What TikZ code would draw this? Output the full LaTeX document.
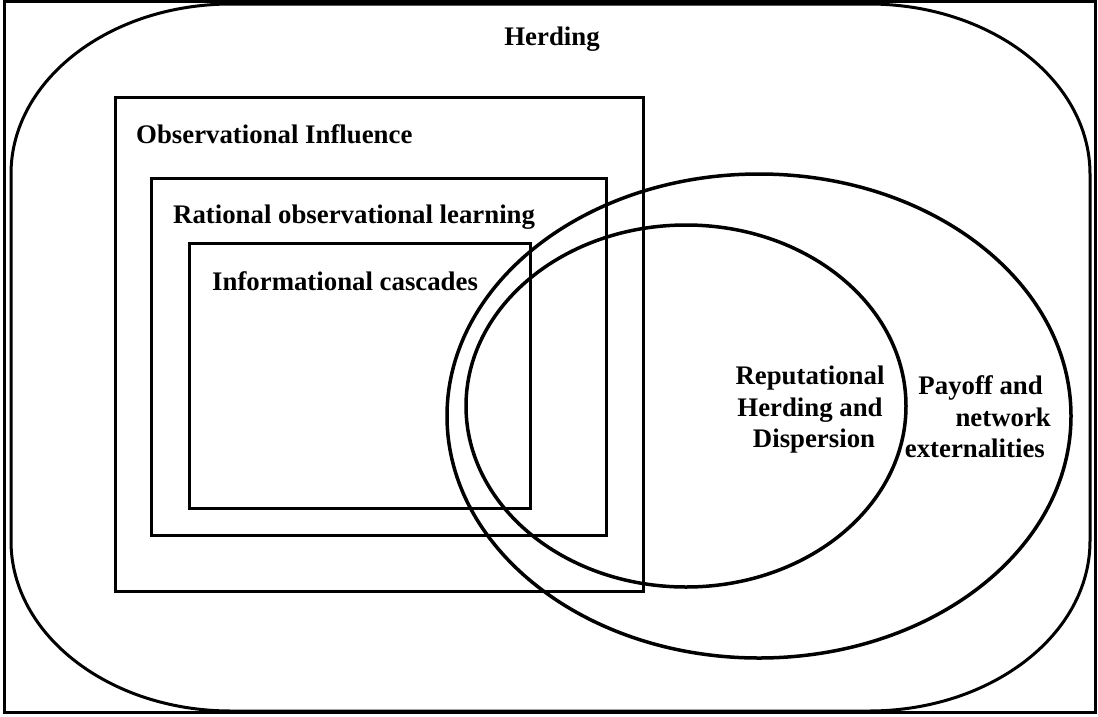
\documentclass[tikz,border=0pt]{standalone}
\usepackage{fontspec}
\setmainfont{Liberation Serif}
\begin{document}
\begin{tikzpicture}[x=1pt,y=-1pt,
  lab/.style={inner sep=0pt, font=\fontsize{26.8}{31.5}\selectfont\bfseries},
  frame/.style={line width=3pt},
  box/.style={line width=3pt},
  oval/.style={line width=3.5pt}]
\useasboundingbox (0,0) rectangle (1098,716);
% outer frame
\draw[frame] (4.5,1.5) rectangle (1095.5,712.5);
% rounded herding region
\draw[box] (11,174) .. controls (11,80) and (109.5,4) .. (231,4)
  -- (869,4) .. controls (990.5,4) and (1090,80) .. (1090,174)
  -- (1090,541) .. controls (1090,635) and (990.5,711) .. (869,711)
  -- (231,711) .. controls (109.5,711) and (11,635) .. (11,541) -- cycle;
% rectangles
\draw[box] (115,97) rectangle (643,591);
\draw[box] (151,178) rectangle (606,535);
\draw[box] (189,243) rectangle (530,508);
% ellipses
\draw[oval] (759,416) ellipse [x radius=312pt, y radius=242pt];
\draw[oval] (686,406) ellipse [x radius=220pt, y radius=181pt];
% labels
\node[lab, anchor=base] (herding) at (552,45) {Herding};
\node[lab, anchor=base west] (obs) at (136,143) {Observational Influence};
\node[lab, anchor=base west] (rat) at (173,223) {Rational observational learning};
\node[lab, anchor=base west] (inf) at (212,290) {Informational cascades};
\node[lab, align=center] (rep) at (810,410) {Reputational\\Herding and\\\hspace*{8pt}Dispersion};
\node[lab, align=right, anchor=east] (pay) at (1051,417) {Payoff and\hspace*{8pt}\\network\\externalities\hspace*{6pt}};
\end{tikzpicture}
\end{document}
